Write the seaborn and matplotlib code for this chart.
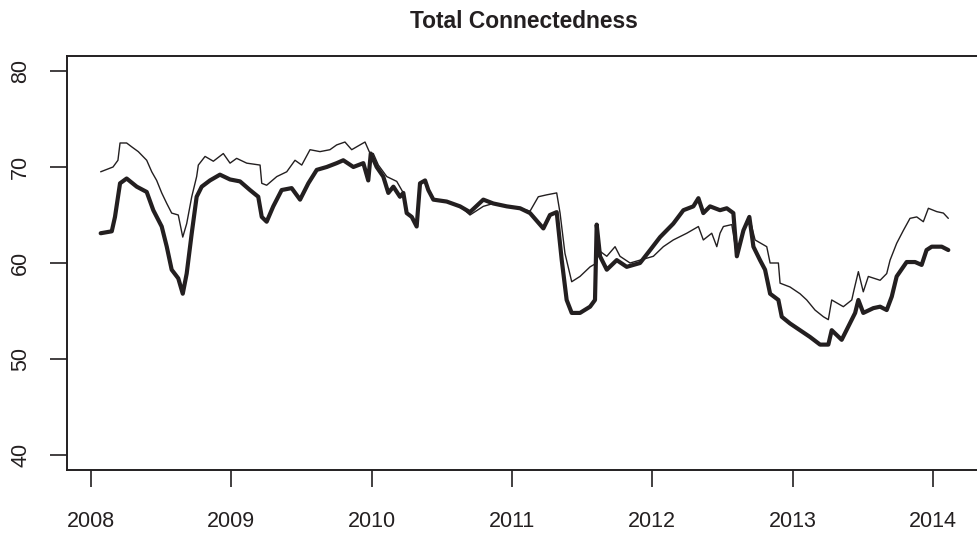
import matplotlib
matplotlib.use("Agg")
import matplotlib.pyplot as plt
import seaborn as sns
import pandas as pd

# ---- data (decimal years, connectedness %) ----
thin_years = [2008.069, 2008.157, 2008.192, 2008.207, 2008.254, 2008.290, 2008.337, 2008.397,
              2008.433, 2008.468, 2008.504, 2008.540, 2008.575, 2008.622, 2008.654, 2008.682,
              2008.718, 2008.753, 2008.765, 2008.813, 2008.872, 2008.943, 2008.991, 2009.038,
              2009.110, 2009.205, 2009.217, 2009.252, 2009.324, 2009.395, 2009.454, 2009.502,
              2009.561, 2009.632, 2009.703, 2009.751, 2009.810, 2009.858, 2009.917, 2009.953,
              2009.989, 2010.012, 2010.048, 2010.108, 2010.179, 2010.226, 2010.250, 2010.286,
              2010.321, 2010.345, 2010.381, 2010.404, 2010.440, 2010.535, 2010.630, 2010.701,
              2010.796, 2010.867, 2010.963, 2011.058, 2011.129, 2011.188, 2011.248, 2011.319,
              2011.343, 2011.378, 2011.426, 2011.485, 2011.557, 2011.604, 2011.616, 2011.676,
              2011.735, 2011.770, 2011.842, 2011.913, 2012.008, 2012.079, 2012.150, 2012.246,
              2012.329, 2012.364, 2012.424, 2012.460, 2012.483, 2012.507, 2012.567, 2012.603,
              2012.650, 2012.692, 2012.733, 2012.816, 2012.840, 2012.899, 2012.911, 2012.982,
              2013.053, 2013.101, 2013.160, 2013.220, 2013.255, 2013.279, 2013.362, 2013.422,
              2013.438, 2013.469, 2013.504, 2013.540, 2013.624, 2013.671, 2013.695, 2013.742,
              2013.790, 2013.837, 2013.885, 2013.932, 2013.968, 2014.028, 2014.075, 2014.110]
thin_values = [69.5, 70.0, 70.7, 72.5, 72.5, 72.1, 71.6, 70.7,
               69.5, 68.6, 67.3, 66.2, 65.2, 65.0, 62.7, 64.1,
               66.9, 69.0, 70.2, 71.1, 70.6, 71.4, 70.4, 70.9,
               70.4, 70.2, 68.3, 68.1, 69.0, 69.5, 70.7, 70.2,
               71.8, 71.6, 71.8, 72.3, 72.6, 71.8, 72.3, 72.6,
               71.4, 71.4, 70.2, 69.0, 68.5, 67.3, 65.2, 64.8,
               63.8, 68.3, 68.6, 67.6, 66.6, 66.4, 65.9, 65.0,
               65.9, 66.2, 65.9, 65.7, 65.4, 66.9, 67.1, 67.3,
               65.2, 61.0, 58.05, 58.6, 59.6, 60.0, 61.35, 60.7,
               61.7, 60.7, 60.0, 60.3, 60.7, 61.7, 62.4, 63.1,
               63.8, 62.4, 63.1, 61.7, 63.1, 63.8, 64.0, 60.7,
               63.4, 64.8, 62.4, 61.7, 60.0, 60.0, 57.9, 57.5,
               56.8, 56.15, 55.1, 54.4, 54.1, 56.15, 55.45, 56.15,
               57.2, 59.1, 57.0, 58.6, 58.2, 58.9, 60.3, 62.05,
               63.4, 64.65, 64.8, 64.3, 65.7, 65.35, 65.2, 64.65]

thick_years = [2008.069, 2008.148, 2008.171, 2008.207, 2008.254, 2008.326, 2008.397, 2008.444,
               2008.504, 2008.540, 2008.575, 2008.622, 2008.654, 2008.682, 2008.718, 2008.753,
               2008.789, 2008.848, 2008.919, 2008.991, 2009.062, 2009.133, 2009.192, 2009.217,
               2009.252, 2009.299, 2009.359, 2009.430, 2009.490, 2009.549, 2009.609, 2009.680,
               2009.751, 2009.798, 2009.870, 2009.941, 2009.976, 2009.994, 2010.036, 2010.083,
               2010.119, 2010.155, 2010.202, 2010.226, 2010.250, 2010.286, 2010.321, 2010.345,
               2010.381, 2010.404, 2010.440, 2010.535, 2010.630, 2010.701, 2010.796, 2010.867,
               2010.963, 2011.058, 2011.129, 2011.224, 2011.271, 2011.319, 2011.355, 2011.390,
               2011.426, 2011.485, 2011.557, 2011.592, 2011.604, 2011.628, 2011.676, 2011.747,
               2011.818, 2011.913, 2011.985, 2012.056, 2012.150, 2012.222, 2012.293, 2012.329,
               2012.364, 2012.412, 2012.483, 2012.531, 2012.578, 2012.603, 2012.650, 2012.692,
               2012.721, 2012.768, 2012.804, 2012.840, 2012.899, 2012.923, 2012.982, 2013.053,
               2013.124, 2013.196, 2013.255, 2013.279, 2013.350, 2013.398, 2013.446, 2013.469,
               2013.504, 2013.576, 2013.624, 2013.671, 2013.707, 2013.742, 2013.813, 2013.873,
               2013.920, 2013.955, 2013.992, 2014.063, 2014.110]
thick_values = [63.1, 63.3, 64.8, 68.3, 68.8, 67.95, 67.4, 65.5,
                63.8, 61.7, 59.3, 58.4, 56.8, 58.9, 63.1, 66.9,
                67.95, 68.6, 69.2, 68.7, 68.5, 67.6, 66.9, 64.8,
                64.3, 65.9, 67.6, 67.8, 66.6, 68.3, 69.7, 70.0,
                70.4, 70.7, 70.0, 70.4, 68.6, 71.4, 70.0, 69.0,
                67.3, 67.95, 66.9, 67.3, 65.2, 64.8, 63.8, 68.3,
                68.6, 67.6, 66.6, 66.4, 65.9, 65.3, 66.6, 66.2,
                65.9, 65.7, 65.2, 63.6, 65.0, 65.3, 60.3, 56.15,
                54.8, 54.8, 55.45, 56.15, 64.0, 60.7, 59.3, 60.3,
                59.6, 60.0, 61.35, 62.7, 64.1, 65.5, 65.9, 66.75,
                65.2, 65.9, 65.5, 65.7, 65.2, 60.7, 63.4, 64.8,
                61.7, 60.3, 59.3, 56.8, 56.15, 54.4, 53.7, 53.0,
                52.3, 51.5, 51.5, 53.0, 52.0, 53.4, 54.8, 56.15,
                54.8, 55.3, 55.45, 55.1, 56.5, 58.6, 60.1, 60.1,
                59.8, 61.35, 61.7, 61.7, 61.35]

x_ticks = [2008, 2009, 2010, 2011, 2012, 2013, 2014]
y_ticks = [40, 50, 60, 70, 80]
title = "Total Connectedness"

# ---- style ----
sns.set_style("white")
plt.rcParams['font.family'] = ['Liberation Sans', 'DejaVu Sans']
ink = '#231f20'

W, H = 977, 533
fig = plt.figure(figsize=(W / 100, H / 100), dpi=100)
left_px, right_px, top_px, bottom_px = 67, 981, 56, 470
ax = fig.add_axes([left_px / W, (H - bottom_px) / H,
                   (right_px - left_px) / W, (bottom_px - top_px) / H])

thin_df = pd.DataFrame({'year': thin_years, 'value': thin_values})
thick_df = pd.DataFrame({'year': thick_years, 'value': thick_values})

sns.lineplot(data=thin_df, x='year', y='value', ax=ax, color=ink, linewidth=1.0,
             sort=False, estimator=None)
sns.lineplot(data=thick_df, x='year', y='value', ax=ax, color=ink, linewidth=3.0,
             sort=False, estimator=None)

ax.set_xlim(2007.829, 2014.343)
ax.set_ylim(38.44, 81.56)
ax.set_xticks(x_ticks)
ax.set_xticklabels([str(t) for t in x_ticks])
ax.set_yticks(y_ticks)
ax.set_yticklabels([str(t) for t in y_ticks], rotation=90, va='center')
ax.set_xlabel('')
ax.set_ylabel('')

for s in ax.spines.values():
    s.set_color(ink)
    s.set_linewidth(1.4)
    s.set_visible(True)

ax.tick_params(axis='both', direction='out', length=12.2, width=1.2, colors=ink,
               labelsize=15.5, labelcolor=ink)
ax.tick_params(axis='x', pad=17, bottom=True)
ax.tick_params(axis='y', pad=13.5, left=True)

ax.set_title(title, fontsize=16.4, fontweight='bold', color=ink, pad=20)

fig.savefig('out.png', dpi=100)
